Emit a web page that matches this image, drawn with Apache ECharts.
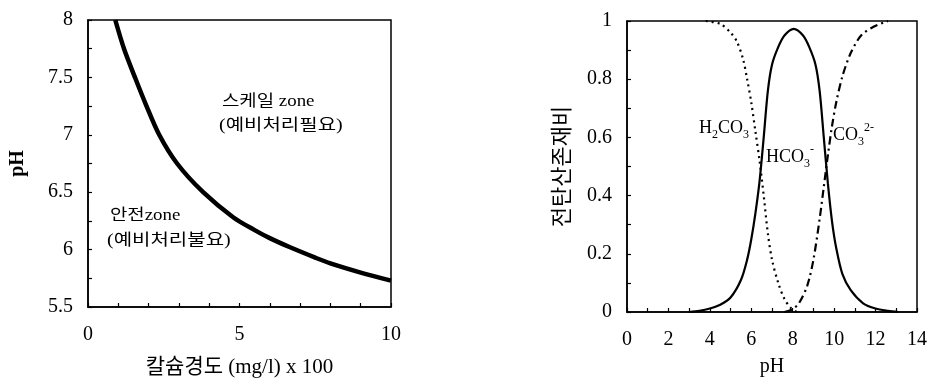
<!DOCTYPE html>
<html>
<head>
<meta charset="utf-8">
<script src="https://cdn.jsdelivr.net/npm/echarts@6/dist/echarts.min.js"></script>
<style>
  html, body { margin: 0; padding: 0; background: #fff; }
  #chart { width: 929px; height: 384px; }
</style>
</head>
<body>
<div id="chart"></div>
<script>
// 왼쪽: 칼슘경도 vs pH 한계곡선
var hardness = [0.9, 1.2, 1.55, 1.9, 2.35, 2.94, 3.8, 4.8, 5.5, 6.0, 6.67, 7.5, 8.0, 9.0, 10.0];
var limitPH  = [8.0, 7.74, 7.5, 7.27, 7.0, 6.75, 6.5, 6.28, 6.17, 6.1, 6.02, 5.93, 5.88, 5.8, 5.73];

// 오른쪽: 탄산종 존재비
var h2co3PH  = [3.8, 4.5, 5.0, 5.3, 5.6, 5.8, 6.0, 6.2, 6.4, 6.6, 6.8, 7.0, 7.3, 7.6, 7.9, 8.2];
var h2co3Val = [1.0, 0.99, 0.96, 0.93, 0.87, 0.8, 0.72, 0.62, 0.52, 0.4, 0.27, 0.18, 0.1, 0.045, 0.015, 0];

var hco3PH   = [3.0, 3.5, 4.0, 4.5, 5.0, 5.5, 5.8, 6.0, 6.2, 6.4, 6.6, 6.8, 7.0, 7.3, 7.6, 8.05,
                8.5, 8.8, 9.1, 9.3, 9.5, 9.7, 9.9, 10.1, 10.4, 10.8, 11.4, 12.0, 12.6, 13.1];
var hco3Val  = [0, 0.004, 0.012, 0.025, 0.05, 0.11, 0.18, 0.25, 0.34, 0.45, 0.6, 0.76, 0.85, 0.91, 0.95, 0.973,
                0.95, 0.91, 0.85, 0.76, 0.6, 0.44, 0.31, 0.22, 0.13, 0.075, 0.03, 0.012, 0.004, 0];

var co3PH    = [7.6, 8.0, 8.3, 8.7, 9.0, 9.3, 9.5, 9.7, 9.9, 10.1, 10.4, 10.8, 11.3, 11.9, 12.6];
var co3Val   = [0, 0.01, 0.03, 0.09, 0.18, 0.32, 0.43, 0.54, 0.64, 0.72, 0.81, 0.89, 0.95, 0.98, 1.0];

// 눈금 라벨 (나머지 눈금은 라벨 없음)
var leftXLabels  = [0, 5, 10];
var leftYLabels  = [5.5, 6, 6.5, 7, 7.5, 8];
var rightXLabels = [0, 2, 4, 6, 8, 10, 12, 14];
var rightYLabels = [0, 0.2, 0.4, 0.6, 0.8, 1];

function pairs(xs, ys) {
  var out = [];
  for (var i = 0; i < xs.length; i++) out.push([xs[i], ys[i]]);
  return out;
}

function onlyLabels(list) {
  return function (v) {
    for (var i = 0; i < list.length; i++) {
      if (Math.abs(list[i] - v) < 1e-6) return String(list[i]);
    }
    return '';
  };
}

var FONT = "'Liberation Serif', 'Noto Sans CJK KR', serif";
var KFONT = "'Liberation Serif', 'Noto Sans CJK KR', sans-serif";

function valueAxis(o) {
  var base = {
    type: 'value',
    axisLine: { show: true, onZero: false, lineStyle: { color: '#000', width: 1.5 } },
    axisTick: { show: true, inside: true, length: 4, lineStyle: { color: '#000', width: 1.2 } },
    splitLine: { show: false },
    axisLabel: { color: '#000', fontFamily: FONT, fontSize: 20, showMinLabel: true, showMaxLabel: true },
    nameLocation: 'middle',
    nameTextStyle: { color: '#000', fontFamily: KFONT, fontSize: 21 }
  };
  for (var k in o) {
    if (typeof o[k] === 'object' && base[k] && !Array.isArray(o[k])) {
      for (var j in o[k]) base[k][j] = o[k][j];
    } else base[k] = o[k];
  }
  return base;
}

function chem(x, y, txt) {
  return {
    type: 'text', left: x, top: y,
    style: {
      text: txt, fill: '#000', fontFamily: FONT, fontSize: 18, lineHeight: 26,
      rich: {
        s: { fontFamily: FONT, fontSize: 12, lineHeight: 13, verticalAlign: 'bottom' },
        p: { fontFamily: FONT, fontSize: 12, lineHeight: 13, verticalAlign: 'top' }
      }
    }
  };
}

function note(x, y, txt, sx) {
  return { type: 'text', left: x, top: y, scaleX: sx,
    style: { text: txt, fill: '#000', font: '16px ' + KFONT } };
}

var chart = echarts.init(document.getElementById('chart'));

var option = {
  animation: false,
  backgroundColor: '#fff',
  grid: [
    { left: 88, top: 20, width: 303, height: 287, show: true, borderColor: '#000', borderWidth: 1.5, outerBoundsMode: 'none' },
    { left: 627, top: 21, width: 290, height: 291, show: true, borderColor: '#000', borderWidth: 1.5, outerBoundsMode: 'none' }
  ],
  xAxis: [
    valueAxis({ gridIndex: 0, min: 0, max: 10, interval: 1,
      axisLabel: { margin: 18, formatter: onlyLabels(leftXLabels) },
      name: '칼슘경도 (mg/l) x 100', nameGap: 50 }),
    valueAxis({ gridIndex: 1, min: 0, max: 14, interval: 1,
      axisLabel: { margin: 18, formatter: onlyLabels(rightXLabels) },
      name: 'pH', nameGap: 45, nameTextStyle: { fontSize: 20 } })
  ],
  yAxis: [
    valueAxis({ gridIndex: 0, min: 5.5, max: 8, interval: 0.25,
      axisLabel: { margin: 15, formatter: onlyLabels(leftYLabels) },
      name: 'pH', nameGap: 60,
      nameTextStyle: { fontWeight: 'bold', fontSize: 20 } }),
    valueAxis({ gridIndex: 1, min: 0, max: 1, interval: 0.1,
      axisLabel: { margin: 15, formatter: onlyLabels(rightYLabels) },
      name: '전탄산존재비', nameGap: 53, nameTextStyle: { fontSize: 22 } })
  ],
  series: [
    {
      type: 'line', xAxisIndex: 0, yAxisIndex: 0,
      data: pairs(hardness, limitPH),
      smooth: 0.3, symbol: 'none',
      lineStyle: { color: '#000', width: 4.5 }
    },
    {
      type: 'line', xAxisIndex: 1, yAxisIndex: 1,
      data: pairs(h2co3PH, h2co3Val),
      smooth: 0.3, symbol: 'none',
      lineStyle: { color: '#000', width: 2.2, type: [2, 4] }
    },
    {
      type: 'line', xAxisIndex: 1, yAxisIndex: 1,
      data: pairs(hco3PH, hco3Val),
      smooth: 0.3, symbol: 'none',
      lineStyle: { color: '#000', width: 2.2 }
    },
    {
      type: 'line', xAxisIndex: 1, yAxisIndex: 1,
      data: pairs(co3PH, co3Val),
      smooth: 0.3, symbol: 'none',
      lineStyle: { color: '#000', width: 2.2, type: [8, 4, 2, 4] }
    }
  ],
  graphic: [
    note(222, 94, '스케일 zone', 1.18),
    note(219, 118, '(예비처리필요)', 1.25),
    note(110, 208, '안전zone', 1.18),
    note(107, 233, '(예비처리불요)', 1.25),
    chem(699, 115, 'H{s|2}CO{s|3}'),
    chem(766, 144, 'HCO{s|3}{p|-}'),
    chem(833, 122, 'CO{s|3}{p|2-}')
  ]
};

chart.setOption(option);
</script>
</body>
</html>
